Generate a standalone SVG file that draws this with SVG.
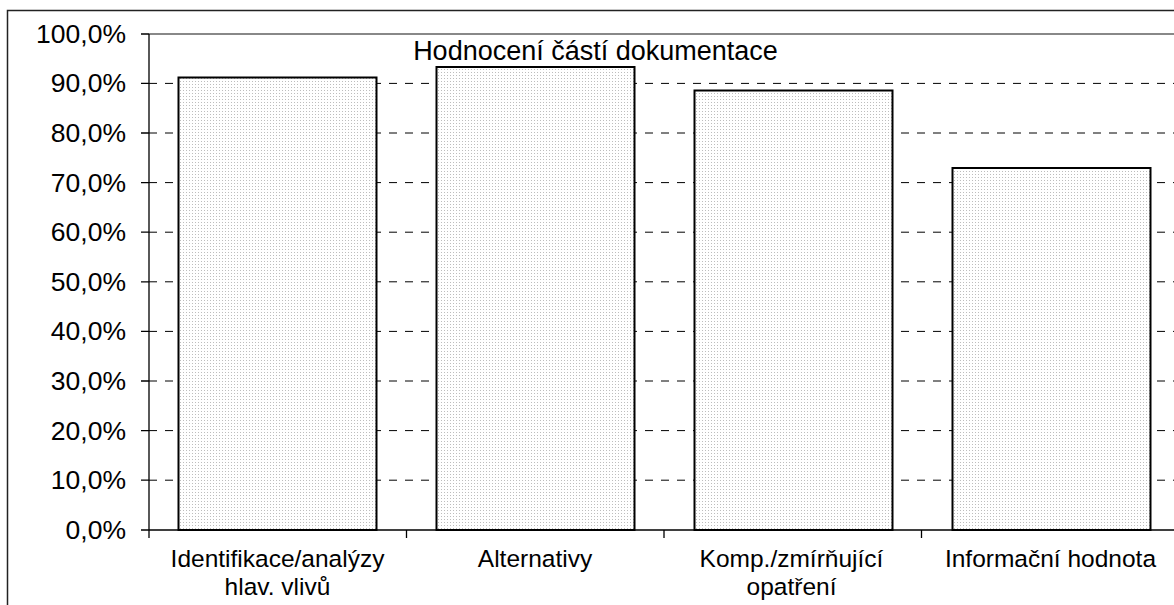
<svg xmlns="http://www.w3.org/2000/svg" width="1174" height="605" viewBox="0 0 1174 605">
<style>
text{font-family:"Liberation Sans",Arial,sans-serif;fill:#000}
.yl{font-size:26.5px;text-anchor:end}
.cl{font-size:24.5px;text-anchor:middle}
.grid{stroke:#000;stroke-width:1;stroke-dasharray:8,8}
.bar{fill:url(#dots);stroke:#000;stroke-width:2}
.ax{stroke:#000;stroke-width:1.3;fill:none}
</style>
<defs>
<pattern id="dots" width="3" height="3" patternUnits="userSpaceOnUse">
<rect width="3" height="3" fill="#fff"/>
<rect width="1" height="1" fill="#bdbdbd"/>
</pattern>
</defs>
<rect width="1174" height="605" fill="#fff"/>
<path d="M7.5 605V10.5H1174" fill="none" stroke="#222" stroke-width="1.5"/>
<g id="grid">
<line class="grid" x1="149" y1="83.4" x2="1174" y2="83.4"/>
<line class="grid" x1="149" y1="133" x2="1174" y2="133"/>
<line class="grid" x1="149" y1="182.6" x2="1174" y2="182.6"/>
<line class="grid" x1="149" y1="232.2" x2="1174" y2="232.2"/>
<line class="grid" x1="149" y1="281.8" x2="1174" y2="281.8"/>
<line class="grid" x1="149" y1="331.4" x2="1174" y2="331.4"/>
<line class="grid" x1="149" y1="381" x2="1174" y2="381"/>
<line class="grid" x1="149" y1="430.6" x2="1174" y2="430.6"/>
<line class="grid" x1="149" y1="480.2" x2="1174" y2="480.2"/>
<line x1="149" y1="34" x2="1174" y2="34" stroke="#888" stroke-width="2"/>
</g>
<g id="bar1"><rect class="bar" x="178.5" y="77.5" width="198" height="452.5"/></g>
<g id="bar2"><rect class="bar" x="436.5" y="67" width="198" height="463"/></g>
<g id="bar3"><rect class="bar" x="694.5" y="90.5" width="198" height="439.5"/></g>
<g id="bar4"><rect class="bar" x="952.5" y="168" width="198" height="362"/></g>
<g id="axes">
<path class="ax" d="M149 34V530M141 34H149M141 83.4H149M141 133H149M141 182.6H149M141 232.2H149M141 281.8H149M141 331.4H149M141 381H149M141 430.6H149M141 480.2H149M141 530H1174M149 530V538M406.5 530V538M664 530V538M921.5 530V538"/>
</g>
<g id="ylabels">
<text class="yl" x="126" y="43">100,0%</text>
<text class="yl" x="126" y="92.4">90,0%</text>
<text class="yl" x="126" y="142">80,0%</text>
<text class="yl" x="126" y="191.6">70,0%</text>
<text class="yl" x="126" y="241.2">60,0%</text>
<text class="yl" x="126" y="290.8">50,0%</text>
<text class="yl" x="126" y="340.4">40,0%</text>
<text class="yl" x="126" y="390">30,0%</text>
<text class="yl" x="126" y="439.6">20,0%</text>
<text class="yl" x="126" y="489.2">10,0%</text>
<text class="yl" x="126" y="538.8">0,0%</text>
</g>
<text id="title" x="595.5" y="60" style="font-size:27px;text-anchor:middle">Hodnocení částí dokumentace</text>
<g id="clabels">
<text class="cl" x="277.5" y="567">Identifikace/analýzy</text>
<text class="cl" x="277.5" y="595">hlav. vlivů</text>
<text class="cl" x="535" y="567">Alternativy</text>
<text class="cl" x="791.5" y="567">Komp./zmírňující</text>
<text class="cl" x="791.5" y="595">opatření</text>
<text class="cl" x="1050.5" y="567">Informační hodnota</text>
</g>
</svg>
